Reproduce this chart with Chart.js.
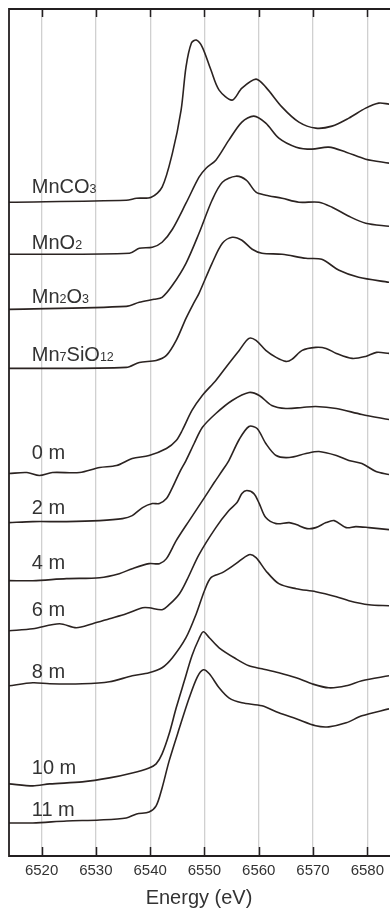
<!DOCTYPE html>
<html>
<head>
<meta charset="utf-8">
<script src="https://cdn.jsdelivr.net/npm/chart.js@4.4.1/dist/chart.umd.min.js"></script>
<style>
  html, body { margin: 0; padding: 0; background: #ffffff; }
  canvas { display: block; }
</style>
</head>
<body>
<canvas id="c" width="390" height="911"></canvas>
<script>
// ---- Data: Mn K-edge XANES spectra (stacked, arbitrary units) ----
const xTicks = [6520, 6530, 6540, 6550, 6560, 6570, 6580];

const energyMnCO3 = [6514, 6535.6, 6537.5, 6540.2, 6542.2, 6544.1, 6545.7, 6546.6, 6547.6, 6548.5, 6549.6, 6551.2, 6552.7, 6555.1, 6556.9, 6559.5, 6561.3, 6564.3, 6567.4, 6570.5, 6573.5, 6576.6, 6579.7, 6582.1, 6584];
const muMnCO3 = [6.53, 6.55, 6.57, 6.58, 6.68, 7.02, 7.45, 7.88, 8.12, 8.15, 8.08, 7.85, 7.65, 7.55, 7.67, 7.76, 7.68, 7.48, 7.33, 7.27, 7.29, 7.37, 7.47, 7.52, 7.51];

const energyMnO2 = [6514, 6536.2, 6538.0, 6540.4, 6542.2, 6544.1, 6546.6, 6549.0, 6550.3, 6552.1, 6554.5, 6556.9, 6559.1, 6561.3, 6563.7, 6566.9, 6569.8, 6572.9, 6576.1, 6579.7, 6584];
const muMnO2 = [6.01, 6.02, 6.07, 6.08, 6.13, 6.26, 6.52, 6.78, 6.87, 6.95, 7.15, 7.33, 7.39, 7.32, 7.17, 7.08, 7.06, 7.08, 7.03, 6.96, 6.92];

const energyMn2O3 = [6514, 6535.6, 6538.0, 6540.7, 6542.2, 6544.1, 6546.6, 6549.0, 6551.4, 6553.3, 6555.8, 6557.7, 6559.5, 6561.3, 6564.3, 6567.4, 6571.1, 6573.5, 6576.6, 6579.7, 6584];
const muMn2O3 = [5.46, 5.49, 5.53, 5.56, 5.58, 5.70, 5.92, 6.22, 6.55, 6.73, 6.79, 6.75, 6.63, 6.60, 6.57, 6.53, 6.53, 6.48, 6.39, 6.32, 6.29];

const energyMn7SiO12 = [6514, 6535.6, 6538.0, 6541.1, 6543.0, 6544.8, 6546.6, 6548.1, 6549.0, 6551.4, 6553.3, 6555.1, 6556.9, 6558.8, 6560.6, 6564.3, 6568.7, 6571.6, 6574.8, 6578.4, 6584];
const muMn7SiO12 = [4.87, 4.88, 4.93, 4.95, 5.00, 5.15, 5.37, 5.53, 5.62, 5.92, 6.12, 6.18, 6.15, 6.06, 6.02, 6.01, 5.97, 5.96, 5.85, 5.78, 5.73];

const energy0m = [6514, 6517.3, 6519.6, 6522.0, 6527.0, 6530.7, 6533.8, 6536.7, 6539.8, 6543.0, 6544.8, 6545.9, 6547.7, 6549.6, 6552.1, 6554.5, 6556.4, 6558.2, 6559.5, 6561.3, 6563.2, 6565.0, 6566.1, 6568.0, 6570.5, 6572.4, 6574.3, 6577.2, 6579.7, 6581.7, 6584];
const mu0m = [3.82, 3.83, 3.80, 3.83, 3.83, 3.88, 3.90, 3.97, 4.00, 4.07, 4.15, 4.25, 4.45, 4.60, 4.75, 4.92, 5.05, 5.17, 5.15, 5.05, 4.98, 4.94, 4.96, 5.05, 5.08, 5.07, 5.02, 4.97, 4.99, 5.03, 5.02];

const energy2m = [6514, 6518.4, 6524.6, 6530.7, 6534.9, 6536.7, 6538.6, 6540.4, 6541.7, 6543.0, 6544.1, 6545.4, 6546.6, 6548.1, 6549.6, 6552.1, 6555.1, 6558.2, 6560.1, 6562.4, 6565.0, 6568.0, 6570.5, 6574.3, 6579.0, 6584];
const mu2m = [3.33, 3.34, 3.34, 3.35, 3.37, 3.40, 3.48, 3.52, 3.52, 3.57, 3.68, 3.83, 3.95, 4.12, 4.28, 4.42, 4.55, 4.63, 4.60, 4.50, 4.47, 4.48, 4.49, 4.47, 4.41, 4.36];

const energy4m = [6514, 6518.4, 6524.6, 6530.7, 6534.3, 6536.7, 6539.8, 6541.7, 6543.0, 6544.8, 6547.2, 6550.0, 6551.8, 6553.3, 6554.5, 6556.4, 6558.2, 6559.7, 6561.3, 6563.2, 6565.6, 6568.7, 6571.1, 6574.3, 6576.6, 6579.0, 6581.6, 6584];
const mu4m = [2.75, 2.75, 2.77, 2.78, 2.82, 2.87, 2.92, 2.92, 2.97, 3.15, 3.35, 3.58, 3.73, 3.85, 3.95, 4.16, 4.29, 4.27, 4.12, 4.00, 3.98, 4.02, 4.04, 4.00, 3.95, 3.92, 3.84, 3.81];

const energy6m = [6514, 6518.4, 6523.3, 6526.4, 6529.4, 6532.5, 6535.6, 6538.6, 6539.8, 6542.2, 6543.5, 6545.4, 6546.8, 6549.0, 6552.1, 6554.5, 6556.0, 6556.9, 6557.8, 6559.1, 6560.1, 6561.3, 6563.2, 6565.6, 6566.9, 6568.9, 6570.5, 6572.4, 6573.9, 6576.1, 6577.9, 6580.3, 6584];
const mu6m = [2.25, 2.27, 2.32, 2.28, 2.32, 2.37, 2.42, 2.48, 2.48, 2.46, 2.51, 2.62, 2.76, 3.01, 3.28, 3.45, 3.53, 3.62, 3.65, 3.62, 3.52, 3.38, 3.32, 3.33, 3.31, 3.27, 3.28, 3.33, 3.35, 3.28, 3.29, 3.28, 3.26];

const energy8m = [6514, 6518.4, 6521.5, 6527.5, 6532.5, 6536.7, 6539.8, 6542.2, 6544.1, 6546.6, 6548.5, 6550.0, 6551.2, 6553.3, 6555.8, 6558.2, 6559.5, 6561.3, 6563.7, 6566.9, 6570.5, 6574.3, 6576.6, 6580.3, 6584];
const mu8m = [1.70, 1.73, 1.72, 1.72, 1.74, 1.80, 1.83, 1.88, 1.98, 2.18, 2.42, 2.65, 2.78, 2.83, 2.92, 3.01, 2.98, 2.85, 2.72, 2.67, 2.64, 2.59, 2.55, 2.51, 2.50];

const energy10m = [6514, 6518.4, 6521.5, 6527.5, 6532.5, 6536.7, 6539.8, 6541.1, 6542.2, 6543.5, 6544.8, 6546.3, 6547.7, 6549.0, 6549.8, 6550.9, 6552.7, 6555.8, 6558.2, 6560.6, 6563.7, 6566.9, 6569.8, 6572.9, 6576.1, 6579.0, 6584];
const mu10m = [0.72, 0.70, 0.72, 0.74, 0.78, 0.83, 0.88, 0.92, 1.02, 1.22, 1.48, 1.75, 2.00, 2.17, 2.24, 2.18, 2.08, 1.97, 1.90, 1.87, 1.83, 1.78, 1.72, 1.68, 1.70, 1.75, 1.80];

const energy11m = [6514, 6518.4, 6524.6, 6530.7, 6535.6, 6537.5, 6539.8, 6541.1, 6542.2, 6543.5, 6545.4, 6547.2, 6548.7, 6549.8, 6550.9, 6552.7, 6554.5, 6556.9, 6560.6, 6563.7, 6566.9, 6570.5, 6572.9, 6576.1, 6579.0, 6584];
const mu11m = [0.33, 0.33, 0.35, 0.36, 0.38, 0.42, 0.44, 0.50, 0.68, 0.95, 1.28, 1.58, 1.79, 1.86, 1.82, 1.68, 1.58, 1.53, 1.50, 1.43, 1.37, 1.30, 1.29, 1.33, 1.40, 1.47];

const sampleNames = ['MnCO_{3}', 'MnO_{2}', 'Mn_{2}O_{3}', 'Mn_{7}SiO_{12}', '0 m', '2 m', '4 m', '6 m', '8 m', '10 m', '11 m'];
const labelLevels = [6.625, 6.067, 5.52, 4.94, 3.97, 3.42, 2.87, 2.40, 1.78, 0.82, 0.40];
const labelEnergy = 6518.2;

const energies = [energyMnCO3, energyMnO2, energyMn2O3, energyMn7SiO12, energy0m, energy2m, energy4m, energy6m, energy8m, energy10m, energy11m];
const spectra = [muMnCO3, muMnO2, muMn2O3, muMn7SiO12, mu0m, mu2m, mu4m, mu6m, mu8m, mu10m, mu11m];

// ---- Styling ----
const LINE = '#2b2321';
const FRAME = '#231f20';
const TEXT = '#333333';
const FONT = '"Liberation Sans", Arial, Helvetica, sans-serif';

const datasets = spectra.map((mu, i) => ({
  label: sampleNames[i],
  data: mu.map((v, j) => ({ x: energies[i][j], y: v })),
  borderColor: LINE,
  borderWidth: 1.6,
  pointRadius: 0,
  fill: false,
  tension: 0.3
}));

const framePlugin = {
  id: 'frameAndLabels',
  afterDatasetsDraw(chart) {
    const { ctx, chartArea: { left, top, right, bottom }, scales: { x, y } } = chart;
    ctx.save();
    ctx.strokeStyle = FRAME;
    ctx.lineWidth = 1.8;
    ctx.beginPath();
    ctx.moveTo(right + 2, top);
    ctx.lineTo(left, top);
    ctx.lineTo(left, bottom);
    ctx.lineTo(right + 2, bottom);
    ctx.stroke();
    ctx.lineWidth = 1.5;
    ctx.beginPath();
    xTicks.forEach(v => {
      const px = Math.round(x.getPixelForValue(v)) + 0.5;
      ctx.moveTo(px, top);
      ctx.lineTo(px, top + 8);
      ctx.moveTo(px, bottom);
      ctx.lineTo(px, bottom - 9);
    });
    ctx.stroke();
    ctx.fillStyle = TEXT;
    ctx.textBaseline = 'alphabetic';
    ctx.textAlign = 'left';
    sampleNames.forEach((name, i) => {
      let px = x.getPixelForValue(labelEnergy);
      const py = y.getPixelForValue(labelLevels[i]);
      const parts = name.split(/(_\{\d+\})/).filter(s => s.length);
      parts.forEach(p => {
        const m = p.match(/^_\{(\d+)\}$/);
        if (m) {
          ctx.font = '12.5px ' + FONT;
          ctx.fillText(m[1], px, py);
          px += ctx.measureText(m[1]).width;
        } else {
          ctx.font = '20px ' + FONT;
          ctx.fillText(p, px, py);
          px += ctx.measureText(p).width;
        }
      });
    });
    ctx.restore();
  }
};

new Chart(document.getElementById('c'), {
  type: 'line',
  data: { datasets },
  plugins: [framePlugin],
  options: {
    responsive: false,
    animation: false,
    devicePixelRatio: 1,
    layout: { padding: { left: 9, top: 9, right: 0, bottom: 0 } },
    plugins: { legend: { display: false }, tooltip: { enabled: false } },
    scales: {
      x: {
        type: 'linear',
        min: 6514,
        max: 6584,
        afterBuildTicks: s => { s.ticks = xTicks.map(v => ({ value: v })); },
        grid: { color: '#d0d0d0', lineWidth: 1.3, drawTicks: false },
        border: { display: false },
        ticks: { color: TEXT, font: { family: FONT, size: 15 }, padding: 6, maxRotation: 0, autoSkip: false,
                 callback: v => String(v) },
        title: { display: true, text: 'Energy (eV)', color: TEXT, font: { family: FONT, size: 20 }, padding: { top: 0, bottom: 1 } }
      },
      y: {
        display: false,
        min: 0,
        max: 8.46
      }
    }
  }
});
</script>
</body>
</html>
